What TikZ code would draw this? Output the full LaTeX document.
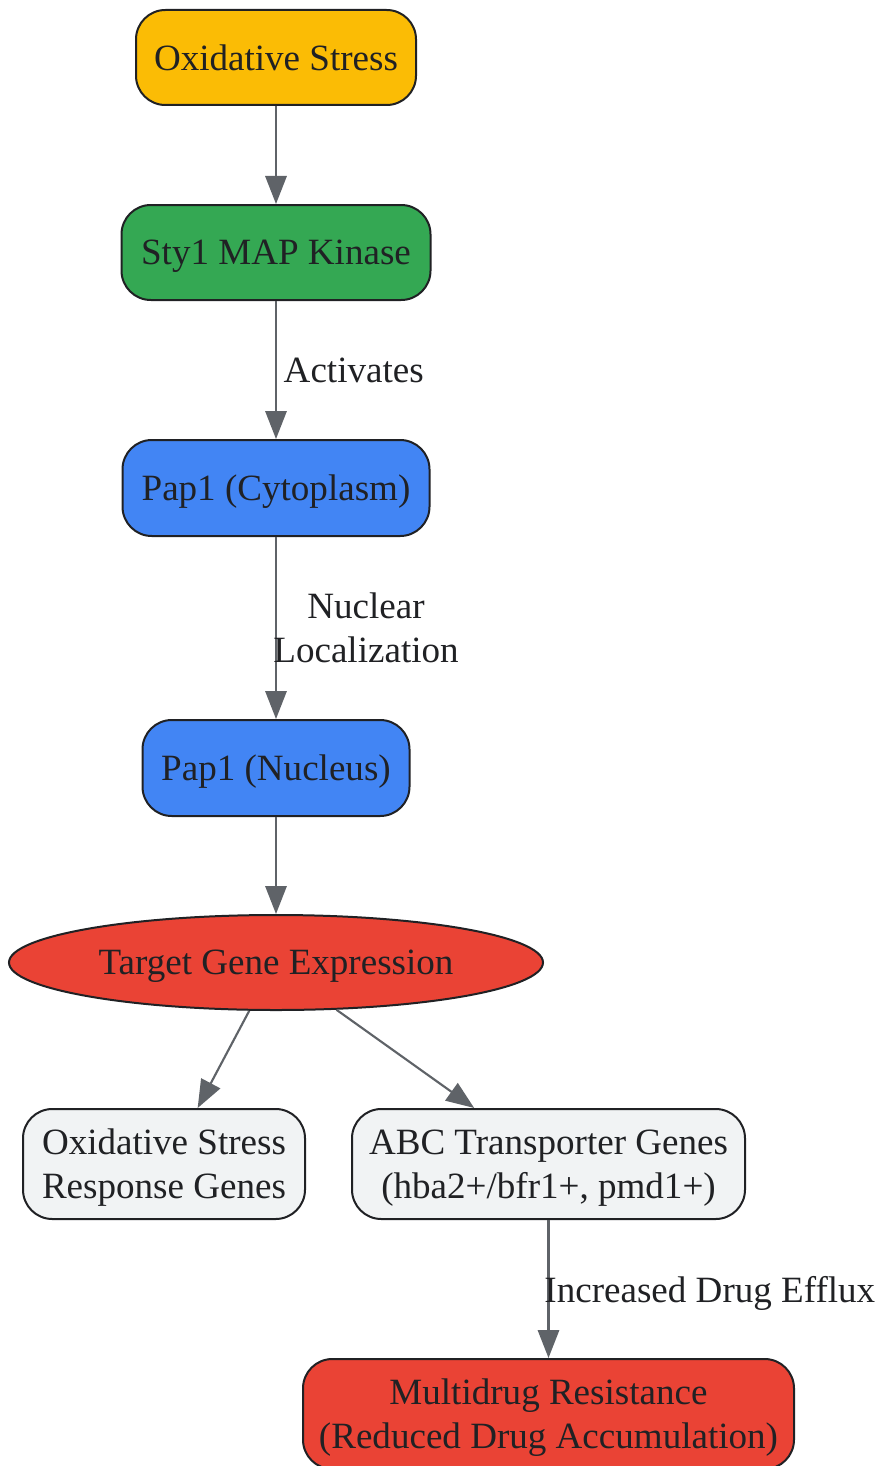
\documentclass[tikz,border=0pt]{standalone}
\usepackage{fontspec}
\setmainfont{Liberation Serif}
\usetikzlibrary{arrows.meta,shapes.geometric}
\definecolor{stressyellow}{HTML}{FBBC05}
\definecolor{kinasegreen}{HTML}{34A853}
\definecolor{papblue}{HTML}{4285F4}
\definecolor{genered}{HTML}{EA4335}
\definecolor{genegrey}{HTML}{F1F3F4}
\definecolor{edgegrey}{HTML}{5F6368}
\definecolor{inkdark}{HTML}{202124}
\tikzset{every picture/.style={line width=0.75pt}}
\tikzset{
  box/.style={draw=inkdark, line width=1.5pt, rounded corners=22pt, minimum height=71.25pt,
    inner sep=0pt, align=center, text=inkdark, text depth=0pt, font=\fontsize{27.8}{33}\selectfont},
  flow/.style={draw=edgegrey, line width=1.6pt, -{Triangle[length=21pt, width=16pt]}},
  lbl/.style={text=inkdark, align=center, text depth=0pt, font=\fontsize{27.8}{33}\selectfont}
}

\begin{document}
\begin{tikzpicture}[x=0.75pt,y=0.75pt,yscale=-1,xscale=1]
\useasboundingbox (0,0) rectangle (879,1466);

%Pathway nodes
\node [box, fill=stressyellow, minimum width=210pt] (ox) at (276,57.5) {Oxidative Stress} ;
\node [box, fill=kinasegreen, minimum width=231.75pt] (sty) at (276,252.5) {Sty1 MAP Kinase} ;
\node [box, fill=papblue, minimum width=230.25pt, minimum height=72pt] (cyto) at (276,488) {Pap1 (Cytoplasm)} ;
\node [box, fill=papblue, minimum width=200.25pt, minimum height=72pt] (nuc) at (276,768) {Pap1 (Nucleus)} ;
\node [ellipse, draw=inkdark, line width=1.5pt, fill=genered, inner sep=0pt, minimum width=400.5pt,
  minimum height=71.25pt, text=inkdark, text depth=0pt, font=\fontsize{27.8}{33}\selectfont] (tge) at (276,962.5) {Target Gene Expression} ;

%Target genes
\node [box, fill=genegrey, minimum width=211.5pt, minimum height=82.5pt] (resp) at (164,1164) {Oxidative Stress\\Response Genes} ;
\node [box, fill=genegrey, minimum width=294.75pt, minimum height=82.5pt] (abc) at (548.5,1164) {ABC Transporter Genes\\(hba2+/bfr1+, pmd1+)} ;
\node [box, fill=genered, minimum width=368.25pt, minimum height=82.5pt] (mdr) at (548.5,1414) {Multidrug Resistance\\(Reduced Drug Accumulation)} ;

%Connectors
\draw [flow] (ox) -- (sty) ;
\draw [flow] (sty) -- node [lbl, right, inner sep=5pt] {Activates} (cyto) ;
\draw [flow] (cyto) -- node [lbl, xshift=67.5pt] {Nuclear\\Localization} (nuc) ;
\draw [flow] (nuc) -- (tge) ;
\draw [flow] (tge.241.6) -- (resp.59.8) ;
\draw [flow] (tge.322.3) -- (abc.143.6) ;
\draw [flow] (abc) -- node [lbl, xshift=121pt] {Increased Drug Efflux} (mdr) ;
\end{tikzpicture}
\end{document}
